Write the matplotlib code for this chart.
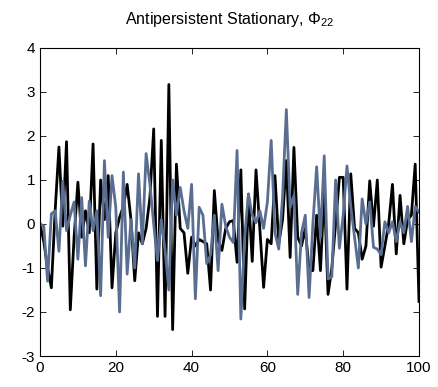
import numpy as np
import matplotlib
matplotlib.use("Agg")
import matplotlib.pyplot as plt

plt.rcParams['font.family'] = ['Liberation Sans', 'DejaVu Sans']
plt.rcParams['axes.unicode_minus'] = False
plt.rcParams['mathtext.fontset'] = 'custom'
plt.rcParams['mathtext.rm'] = 'Liberation Sans'
plt.rcParams['mathtext.it'] = 'Liberation Sans'

# series values, t = 0..100
black = [0.0, -0.4, -1.0, -1.45, 0.3, 1.75, -0.05, 1.87, -1.95, -0.3,
         0.95, -0.3, 0.3, -0.2, 1.82, -1.48, 1.0, 0.1, 1.1, -1.45,
         -0.2, 0.15, 0.4, 0.9, 0.1, -1.29, -0.2, -0.45, -0.1, 0.6,
         2.16, -2.1, 1.9, -2.1, 3.17, -2.4, 1.36, -0.1, -0.2, -1.12,
         -0.3, -0.5, -0.35, -0.4, -0.45, -1.5, 0.76, -0.38, -0.6, -0.1,
         0.05, 0.08, -0.87, 1.23, -1.93, 0.68, -0.85, 1.23, -0.1, -1.44,
         -0.35, -0.45, 1.1, -0.45, 0.1, 1.44, -0.76, 1.74, -0.3, -0.5,
         -0.1, -1.06, -1.06, 0.2, -1.06, 0.8, -1.6, -1.0, 0.0, 1.06,
         1.06, -1.48, 1.14, -0.1, -0.2, -0.8, -0.5, 0.98, -0.05, 1.0,
         -0.98, -0.5, 0.0, 0.9, -0.68, 0.65, -0.45, 0.1, 0.2, 1.36,
         -1.76]
blue = [0.0, -0.05, -1.3, 0.23, 0.3, -0.62, 0.97, -0.15, 0.2, 0.5,
        -0.8, 0.6, -0.95, 0.52, -0.15, 0.3, -1.63, 1.44, -0.3, 1.1,
        0.38, -2.0, 1.18, -1.14, 0.1, -1.0, 1.14, -0.45, 1.6, 0.9,
        0.0, -0.83, 0.1, -0.6, -1.5, 1.0, 0.2, 0.83, 0.3, -0.1,
        0.9, -1.7, 0.38, 0.2, -0.9, -0.7, 0.2, -1.06, 0.45, -0.05,
        -0.3, -0.42, 1.67, -2.16, -0.3, 0.68, 0.2, 0.03, 0.3, -0.1,
        0.5, 1.9, -0.2, -0.57, 0.6, 2.6, 0.38, 0.64, -1.6, -0.2,
        0.2, -1.67, 0.0, 1.3, -0.3, 1.55, -1.25, -1.2, 1.0, -0.55,
        0.2, 1.32, 0.4, -0.3, -1.0, 0.57, 0.0, 0.5, -0.53, -0.57,
        -0.7, 0.05, -0.2, 0.05, -0.4, 0.05, -0.2, 0.4, -0.4, 0.4,
        0.27]
t = np.arange(len(black))

fig = plt.figure(figsize=(4.38, 3.87), dpi=100)
ax = fig.add_axes([0.0913, 0.0801, 0.8653, 0.7959])
ax.plot(t, black, color='black', lw=2.0)
ax.plot(t, blue, color='#5a6e91', lw=2.0)

ax.set_xlim(0, 100)
ax.set_ylim(-3, 4)
ax.set_xticks(range(0, 101, 20))
ax.set_yticks(range(-3, 5))
ax.tick_params(direction='in', top=True, right=True, labelsize=11, length=4, width=0.6)
for s in ax.spines.values():
    s.set_linewidth(0.8)
ax.set_title(r'Antipersistent Stationary, $\Phi_{22}$', fontsize=11.5, pad=17)

fig.savefig('out.png', dpi=100)
